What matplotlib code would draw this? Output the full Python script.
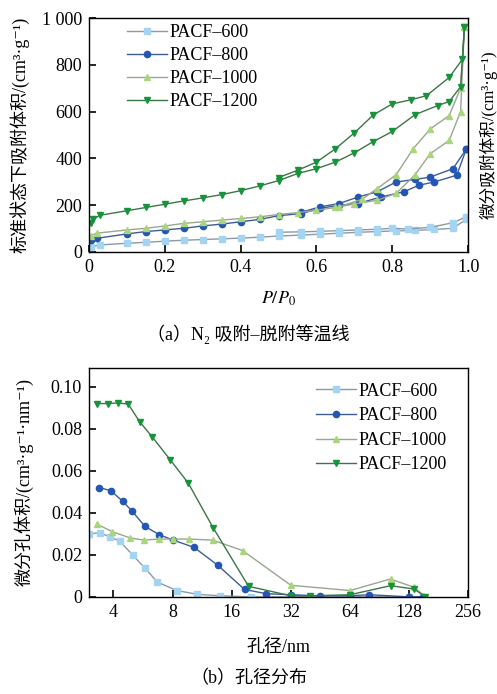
import numpy as np
import matplotlib
matplotlib.use("Agg")
import matplotlib.pyplot as plt

plt.rcParams['font.family'] = ['Liberation Serif', 'Noto Sans CJK SC', 'DejaVu Sans']
plt.rcParams['mathtext.fontset'] = 'stix'
plt.rcParams['font.size'] = 13

labels = ['PACF\u2013600', 'PACF\u2013800', 'PACF\u20131000', 'PACF\u20131200']
mk_colors = ['#a3d4f2', '#2456b4', '#a9d67c', '#17943a']
ln_colors = ['#8b9aa6', '#3c5d96', '#9aa68e', '#3c7648']
markers = ['s', 'o', '^', 'v']

# (a) N2 isotherms: adsorption / desorption branches
ads_p = [
    [0.005, 0.03, 0.1, 0.15, 0.2, 0.25, 0.3, 0.35, 0.4, 0.45, 0.5, 0.56, 0.61, 0.66, 0.71, 0.76, 0.81, 0.86, 0.91, 0.96, 0.995],
    [0.005, 0.02, 0.1, 0.15, 0.2, 0.25, 0.3, 0.35, 0.4, 0.45, 0.5, 0.56, 0.61, 0.66, 0.71, 0.77, 0.83, 0.87, 0.91, 0.97, 0.995],
    [0.005, 0.02, 0.1, 0.15, 0.2, 0.25, 0.3, 0.35, 0.4, 0.45, 0.5, 0.55, 0.6, 0.65, 0.7, 0.76, 0.81, 0.86, 0.9, 0.95, 0.98, 0.99],
    [0.005, 0.01, 0.03, 0.1, 0.15, 0.2, 0.25, 0.3, 0.35, 0.4, 0.45, 0.5, 0.55, 0.6, 0.65, 0.7, 0.75, 0.8, 0.86, 0.92, 0.95, 0.98, 0.99],
]
ads_v = [
    [22, 30, 37, 41, 46, 50, 53, 56, 59, 63, 68, 72, 76, 80, 84, 87, 90, 92, 96, 101, 140],
    [50, 58, 77, 87, 94, 101, 111, 119, 129, 139, 155, 164, 186, 200, 207, 235, 257, 285, 299, 328, 440],
    [70, 80, 94, 101, 111, 122, 129, 136, 143, 150, 160, 168, 178, 190, 205, 221, 250, 330, 420, 477, 600, 960],
    [125, 140, 157, 176, 190, 204, 218, 231, 245, 262, 282, 305, 335, 356, 384, 424, 472, 515, 587, 626, 643, 706, 960],
]
des_p = [
    [0.995, 0.96, 0.90, 0.84, 0.80, 0.76, 0.71, 0.66, 0.61, 0.56, 0.50],
    [0.995, 0.96, 0.90, 0.86, 0.81, 0.76, 0.71, 0.66, 0.61, 0.56],
    [0.99, 0.98, 0.95, 0.90, 0.855, 0.81, 0.76, 0.72, 0.66],
    [0.99, 0.985, 0.95, 0.89, 0.85, 0.80, 0.75, 0.70, 0.65, 0.60, 0.55, 0.50],
]
des_v = [
    [150, 125, 105, 98, 101, 97, 94, 91, 88, 86, 84],
    [440, 356, 320, 310, 299, 257, 235, 207, 193, 170],
    [960, 700, 583, 526, 441, 330, 271, 225, 193],
    [960, 824, 746, 668, 651, 633, 586, 509, 441, 384, 349, 318],
]

# (b) pore size distribution
pore_d = [
    [3.0, 3.4, 3.85, 4.3, 5.0, 5.8, 6.7, 8.4, 10.7, 14, 20, 32, 64, 128, 150],
    [3.39, 3.88, 4.45, 4.95, 5.79, 6.86, 8.07, 10.3, 13.6, 18.6, 24, 32, 45, 64, 80, 128, 150],
    [3.31, 3.95, 4.87, 5.72, 6.83, 8.0, 9.74, 12.8, 18.2, 32, 64, 103, 136, 155],
    [3.31, 3.75, 4.24, 4.76, 5.43, 6.3, 7.8, 9.6, 12.9, 19.5, 32, 40, 64, 103, 136, 155],
]
pore_v = [
    [0.030, 0.0305, 0.0285, 0.0265, 0.020, 0.0135, 0.007, 0.003, 0.0012, 0.0005, 0, 0, 0, 0, 0],
    [0.052, 0.0505, 0.0455, 0.041, 0.0335, 0.0295, 0.027, 0.0235, 0.015, 0.0035, 0.0015, 0.001, 0.0005, 0.0005, 0.001, 0, 0],
    [0.0345, 0.031, 0.028, 0.027, 0.0275, 0.0275, 0.0275, 0.027, 0.022, 0.0055, 0.003, 0.0085, 0.0045, 0],
    [0.092, 0.092, 0.0923, 0.0917, 0.0834, 0.0761, 0.0651, 0.0542, 0.0327, 0.005, 0.0005, 0.0005, 0.001, 0.0053, 0.0037, 0],
]

fig = plt.figure(figsize=(4.97, 6.94), dpi=100)
ax1 = fig.add_axes([0.179, 0.637, 0.763, 0.337])
ax2 = fig.add_axes([0.179, 0.140, 0.763, 0.330])

for i in range(4):
    st = dict(color=ln_colors[i], lw=1.0, marker=markers[i], ms=4.5,
              mfc=mk_colors[i], mec=mk_colors[i])
    ax1.plot(ads_p[i], ads_v[i], label=labels[i], **st)
    ax1.plot(des_p[i], des_v[i], **st)
    ax2.plot(pore_d[i], pore_v[i], label=labels[i], **st)

ax1.set_xlim(0, 1.0)
ax1.set_ylim(0, 1000)
ax1.set_xticks([0, 0.2, 0.4, 0.6, 0.8, 1.0])
ax1.set_xticklabels(['0', '0.2', '0.4', '0.6', '0.8', '1.0'])
ax1.set_yticks([0, 200, 400, 600, 800, 1000])
ax1.set_yticklabels(['0', '200', '400', '600', '800', '1 000'])
ax1.set_xlabel('$P/P_0$', fontsize=13, labelpad=10)
ax1.set_ylabel('标准状态下吸附体积/(cm³·g⁻¹)', fontsize=13, labelpad=9)
ax1.text(1.055, 0.5, '微分吸附体积/(cm³·g⁻¹)', transform=ax1.transAxes,
         rotation=90, va='center', ha='center', fontsize=12)
ax1.legend(loc='upper left', bbox_to_anchor=(0.1, 0.975), frameon=False,
           borderpad=0, borderaxespad=0, handlelength=2.2, handletextpad=0.15,
           labelspacing=0.34, fontsize=13)

ax2.set_xscale('log', base=2)
ax2.set_xlim(3.0, 256)
ax2.set_ylim(0, 0.109)
ax2.set_xticks([4, 8, 16, 32, 64, 128, 256])
ax2.set_xticklabels(['4', '8', '16', '32', '64', '128', '256'])
ax2.minorticks_off()
ax2.set_yticks([0, 0.02, 0.04, 0.06, 0.08, 0.10])
ax2.set_yticklabels(['0', '0.02', '0.04', '0.06', '0.08', '0.10'])
ax2.set_xlabel('孔径/nm', fontsize=13, labelpad=13)
ax2.set_ylabel('微分孔体积/(cm³·g⁻¹·nm⁻¹)', fontsize=13, labelpad=12)
ax2.legend(loc='upper left', bbox_to_anchor=(0.6, 0.935), frameon=False,
           borderpad=0, borderaxespad=0, handlelength=2.2, handletextpad=0.15,
           labelspacing=0.42, fontsize=13)

for ax in (ax1, ax2):
    ax.tick_params(direction='in', length=5, width=1.2, top=False, right=False, pad=5)
    for s in ax.spines.values():
        s.set_linewidth(1.0)

fig.text(0.5, 0.518, '（a）N₂ 吸附–脱附等温线', ha='center', va='center', fontsize=13)
fig.text(0.5, 0.022, '（b）孔径分布', ha='center', va='center', fontsize=13)

fig.savefig('out.png', dpi=100)
